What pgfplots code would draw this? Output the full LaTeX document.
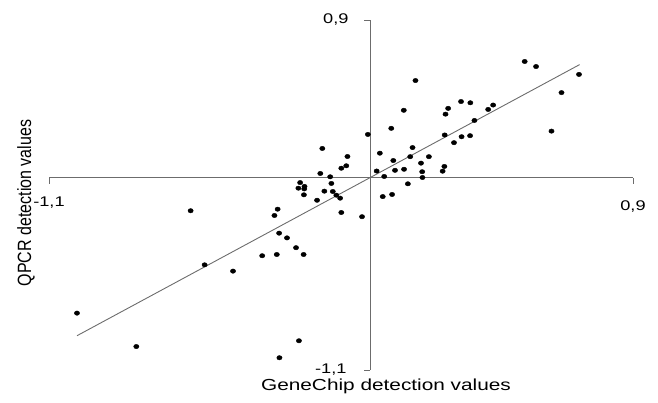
\documentclass[border=0pt]{standalone}
\usepackage{fontspec}
\setmainfont{Liberation Sans}
\usepackage{pgfplots}
\usepackage{graphicx}
\pgfplotsset{compat=1.18}
\usepackage{pgfplotstable}

% GeneChip (x) vs QPCR (y) detection values
\pgfplotstableread{
x y
0.529 0.663
0.568 0.634
0.715 0.589
0.655 0.485
0.621 0.265
0.155 0.554
0.115 0.384
0.311 0.434
0.343 0.427
0.267 0.395
0.258 0.362
0.404 0.389
0.421 0.414
0.357 0.326
0.255 0.243
0.313 0.233
0.342 0.239
0.287 0.199
-0.008 0.246
0.072 0.281
0.145 0.171
0.033 0.139
0.137 0.119
0.201 0.119
0.079 0.097
0.174 0.082
0.254 0.063
0.022 0.037
0.085 0.041
0.116 0.047
0.178 0.033
0.248 0.036
0.048 0.006
0.179 0.000
0.129 -0.036
0.043 -0.109
0.075 -0.097
-0.164 0.166
-0.078 0.120
-0.099 0.053
-0.082 0.067
-0.171 0.023
-0.137 0.004
-0.240 -0.029
-0.133 -0.034
-0.225 -0.051
-0.246 -0.061
-0.226 -0.065
-0.157 -0.078
-0.128 -0.080
-0.227 -0.099
-0.116 -0.101
-0.103 -0.118
-0.182 -0.130
-0.099 -0.200
-0.028 -0.224
-0.317 -0.181
-0.328 -0.217
-0.615 -0.190
-0.312 -0.318
-0.285 -0.345
-0.254 -0.401
-0.228 -0.440
-0.320 -0.440
-0.370 -0.447
-0.567 -0.499
-0.470 -0.535
-1.004 -0.775
-0.801 -0.966
-0.311 -1.030
-0.244 -0.933
}\pts

\newcommand{\wide}[1]{\scalebox{1.3}[1]{#1}}

\begin{document}
\begin{tikzpicture}
\useasboundingbox (0,0) rectangle (658pt,402pt);
\begin{axis}[
  at={(49pt,32pt)}, anchor=south west,
  scale only axis,
  width=584pt, height=350pt,
  xmin=-1.1, xmax=0.9,
  ymin=-1.1, ymax=0.9,
  enlargelimits=false,
  axis lines=middle,
  axis line style={-, gray!85!black, line width=0.9pt},
  xtick={-1.1,0.9}, ytick={-1.1,0.9},
  xticklabels={}, yticklabels={},
  tick align=outside,
  major tick length=6pt,
  tick style={gray!85!black, line width=0.9pt},
  clip=false,
]
\addplot[gray!85!black, line width=0.9pt] coordinates {(-1.004,-0.904) (0.717,0.645)};
\addplot[only marks, mark=*, mark size=2.2pt, mark options={xscale=1.2}, black] table {\pts};
\end{axis}
% tick labels and axis titles
\node[font=\fontsize{14}{16}\selectfont] at (49pt,199pt) {\wide{-1,1}};
\node[font=\fontsize{14}{16}\selectfont] at (633pt,195pt) {\wide{0,9}};
\node[font=\fontsize{14}{16}\selectfont, anchor=east] at (352pt,382pt) {\wide{0,9}};
\node[font=\fontsize{14}{16}\selectfont, anchor=east] at (350pt,32pt) {\wide{-1,1}};
\node[font=\fontsize{16}{18}\selectfont] at (386pt,16pt) {\wide{GeneChip detection values}};
\node[font=\fontsize{16}{18}\selectfont, rotate=90] at (26pt,199pt) {\scalebox{1}[1.2]{QPCR detection values}};
\end{tikzpicture}
\end{document}
